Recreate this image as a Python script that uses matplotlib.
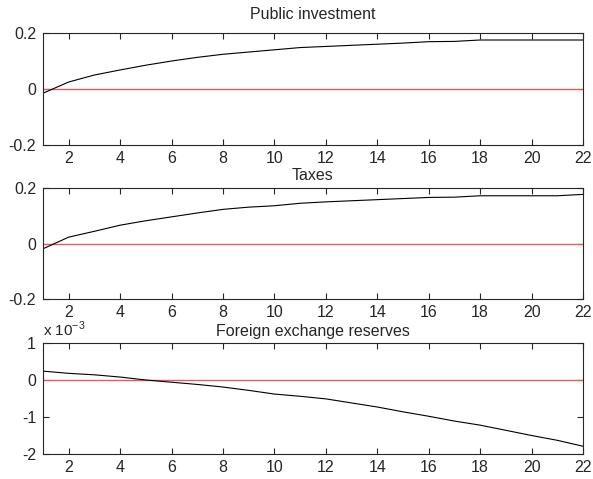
import matplotlib
matplotlib.use("Agg")
import matplotlib.pyplot as plt
from matplotlib.ticker import FuncFormatter

plt.rcParams["font.family"] = ["Liberation Sans", "DejaVu Sans"]
plt.rcParams["font.size"] = 11.5

# Impulse responses, periods 1..22
periods = list(range(1, 23))
public_investment = [-0.015, 0.025, 0.05, 0.068, 0.085, 0.10, 0.113, 0.124, 0.132, 0.140,
                     0.148, 0.152, 0.156, 0.160, 0.164, 0.169, 0.170, 0.175, 0.175, 0.175,
                     0.175, 0.175]
taxes = [-0.019, 0.023, 0.044, 0.066, 0.082, 0.096, 0.110, 0.123, 0.131, 0.136,
         0.145, 0.150, 0.154, 0.158, 0.162, 0.166, 0.167, 0.172, 0.172, 0.172,
         0.172, 0.177]
fx_reserves = [0.24e-3, 0.18e-3, 0.14e-3, 0.08e-3, 0.0, -0.06e-3, -0.12e-3, -0.19e-3,
               -0.28e-3, -0.38e-3, -0.44e-3, -0.51e-3, -0.62e-3, -0.73e-3, -0.86e-3,
               -0.98e-3, -1.11e-3, -1.22e-3, -1.36e-3, -1.50e-3, -1.63e-3, -1.79e-3]

titles = ["Public investment", "Taxes", "Foreign exchange reserves"]
series = [public_investment, taxes, fx_reserves]
y_ticks = [[-0.2, 0, 0.2], [-0.2, 0, 0.2], [-2e-3, -1e-3, 0, 1e-3]]
y_limits = [(-0.2, 0.2), (-0.2, 0.2), (-2e-3, 1e-3)]
title_pads = [10, 6, 5]
x_ticks = list(range(2, 23, 2))

fig = plt.figure(figsize=(5.93, 4.79), dpi=100)
W, H = 593, 479
# axes boxes in pixels: (left, top, right, bottom)
boxes = [(43, 33, 583, 145), (43, 188, 583, 299), (43, 343, 583, 454)]

for box, title, vals, yt, yl, tp in zip(boxes, titles, series, y_ticks, y_limits, title_pads):
    l, t, r, b = box
    ax = fig.add_axes([l / W, 1 - b / H, (r - l) / W, (b - t) / H])
    ax.plot(periods, [0] * len(periods), color="#e65a64", linewidth=1.0)
    ax.plot(periods, vals, color="black", linewidth=0.8)
    ax.set_xlim(1, 22)
    ax.set_ylim(*yl)
    ax.set_xticks(x_ticks)
    ax.set_yticks(yt)
    if title == "Foreign exchange reserves":
        ax.yaxis.set_major_formatter(FuncFormatter(lambda v, p: f"{v * 1e3:g}"))
        ax.text(0.0, 1.035, r"x 10$^{\mathregular{-3}}$", transform=ax.transAxes,
                ha="left", va="bottom", fontsize=11, color="#262626")
    else:
        ax.yaxis.set_major_formatter(FuncFormatter(lambda v, p: f"{v:g}"))
    ax.tick_params(direction="in", length=4, width=0.8, top=True, right=True,
                   labelsize=11.5, colors="#262626", pad=4)
    ax.tick_params(axis="y", pad=5)
    for s in ax.spines.values():
        s.set_linewidth(0.8)
        s.set_color("#262626")
    ax.set_title(title, fontsize=11.5, pad=tp, color="#262626")

fig.savefig("out.png", dpi=100)
